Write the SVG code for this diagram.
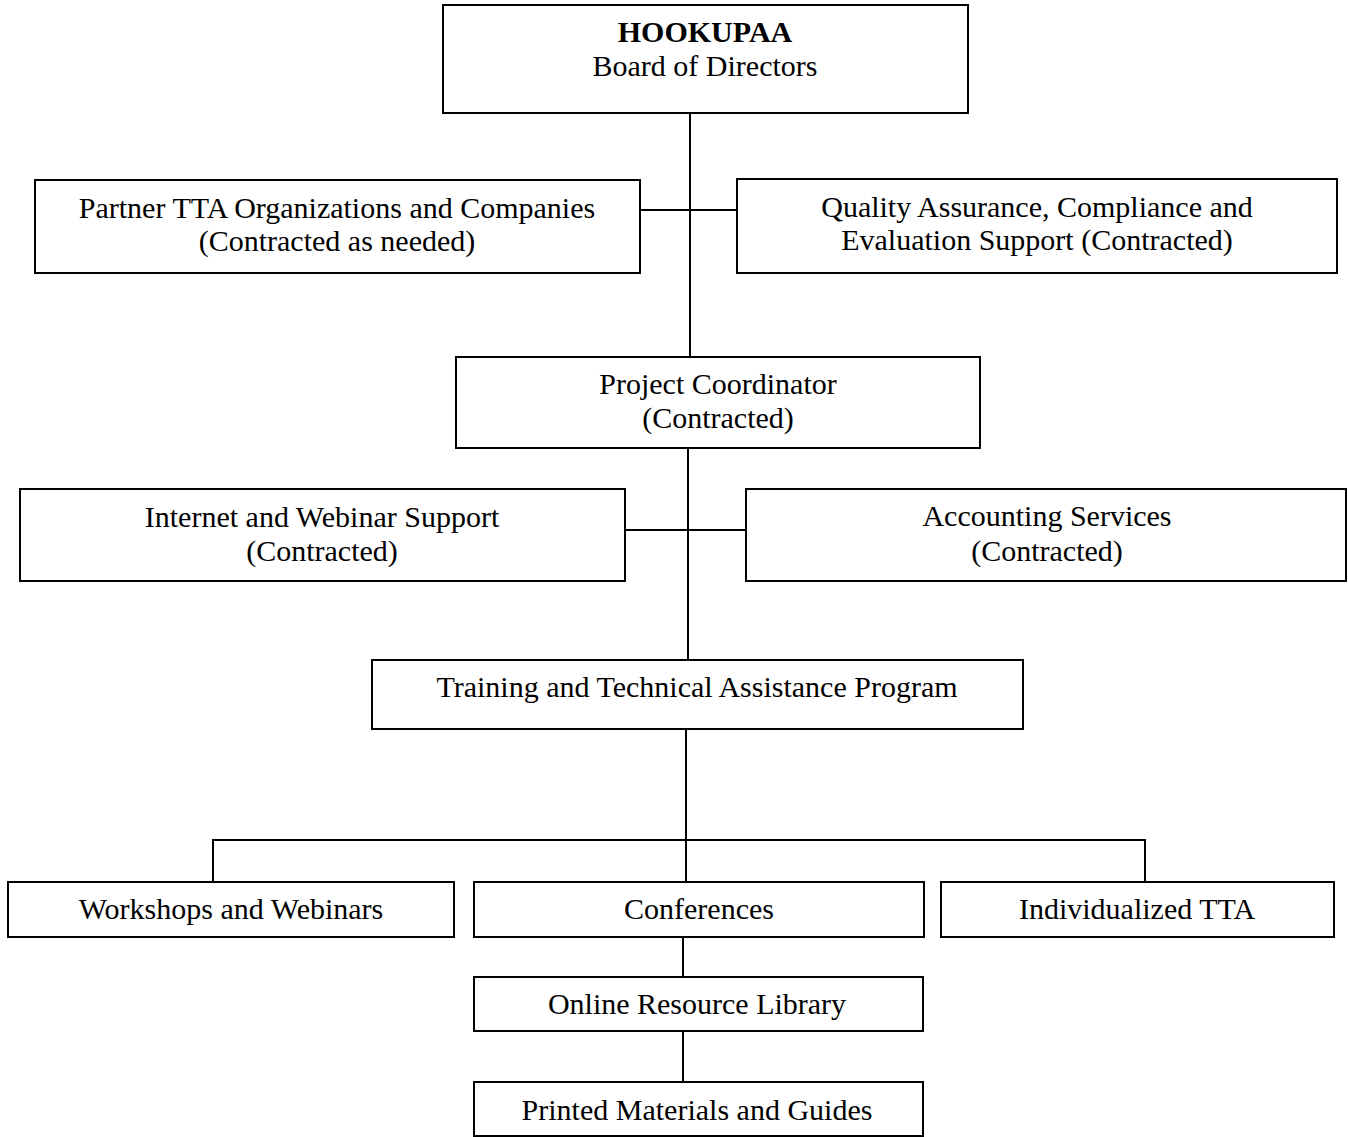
<svg xmlns="http://www.w3.org/2000/svg" width="1348" height="1137" viewBox="0 0 1348 1137">
<style>
.box{fill:#fff;stroke:#000;stroke-width:2}
.ln{stroke:#000;stroke-width:2;fill:none}
text{font-family:"Liberation Serif","Times New Roman",serif;font-size:30px;fill:#000;text-anchor:middle}
.b{font-weight:bold}
</style>
<rect width="1348" height="1137" fill="#fff"/>
<g id="connectors">
<line class="ln" x1="690" y1="113" x2="690" y2="357"/>
<line class="ln" x1="640" y1="210" x2="737" y2="210"/>
<line class="ln" x1="688" y1="448" x2="688" y2="660"/>
<line class="ln" x1="625" y1="530" x2="746" y2="530"/>
<line class="ln" x1="686" y1="729" x2="686" y2="882"/>
<polyline class="ln" points="213,882 213,840 1145,840 1145,882"/>
<line class="ln" x1="683" y1="937" x2="683" y2="977"/>
<line class="ln" x1="683" y1="1031" x2="683" y2="1082"/>
</g>
<g id="board"><rect class="box" x="443" y="5" width="525" height="108"/>
<text class="b" x="705" y="42">HOOKUPAA</text><text x="705" y="76">Board of Directors</text></g>
<g id="partner"><rect class="box" x="35" y="180" width="605" height="93"/>
<text x="337" y="218">Partner TTA Organizations and Companies</text><text x="337" y="251">(Contracted as needed)</text></g>
<g id="qa"><rect class="box" x="737" y="179" width="600" height="94"/>
<text x="1037" y="217">Quality Assurance, Compliance and</text><text x="1037" y="250">Evaluation Support (Contracted)</text></g>
<g id="coordinator"><rect class="box" x="456" y="357" width="524" height="91"/>
<text x="718" y="394">Project Coordinator</text><text x="718" y="428">(Contracted)</text></g>
<g id="internet"><rect class="box" x="20" y="489" width="605" height="92"/>
<text x="322" y="527">Internet and Webinar Support</text><text x="322" y="561">(Contracted)</text></g>
<g id="accounting"><rect class="box" x="746" y="489" width="600" height="92"/>
<text x="1047" y="526">Accounting Services</text><text x="1047" y="561">(Contracted)</text></g>
<g id="tta"><rect class="box" x="372" y="660" width="651" height="69"/>
<text x="697" y="697">Training and Technical Assistance Program</text></g>
<g id="workshops"><rect class="box" x="8" y="882" width="446" height="55"/>
<text x="231" y="919">Workshops and Webinars</text></g>
<g id="conferences"><rect class="box" x="474" y="882" width="450" height="55"/>
<text x="699" y="919">Conferences</text></g>
<g id="individualized"><rect class="box" x="941" y="882" width="393" height="55"/>
<text x="1137" y="919">Individualized TTA</text></g>
<g id="library"><rect class="box" x="474" y="977" width="449" height="54"/>
<text x="697" y="1014">Online Resource Library</text></g>
<g id="printed"><rect class="box" x="474" y="1082" width="449" height="54"/>
<text x="697" y="1120">Printed Materials and Guides</text></g>
</svg>
